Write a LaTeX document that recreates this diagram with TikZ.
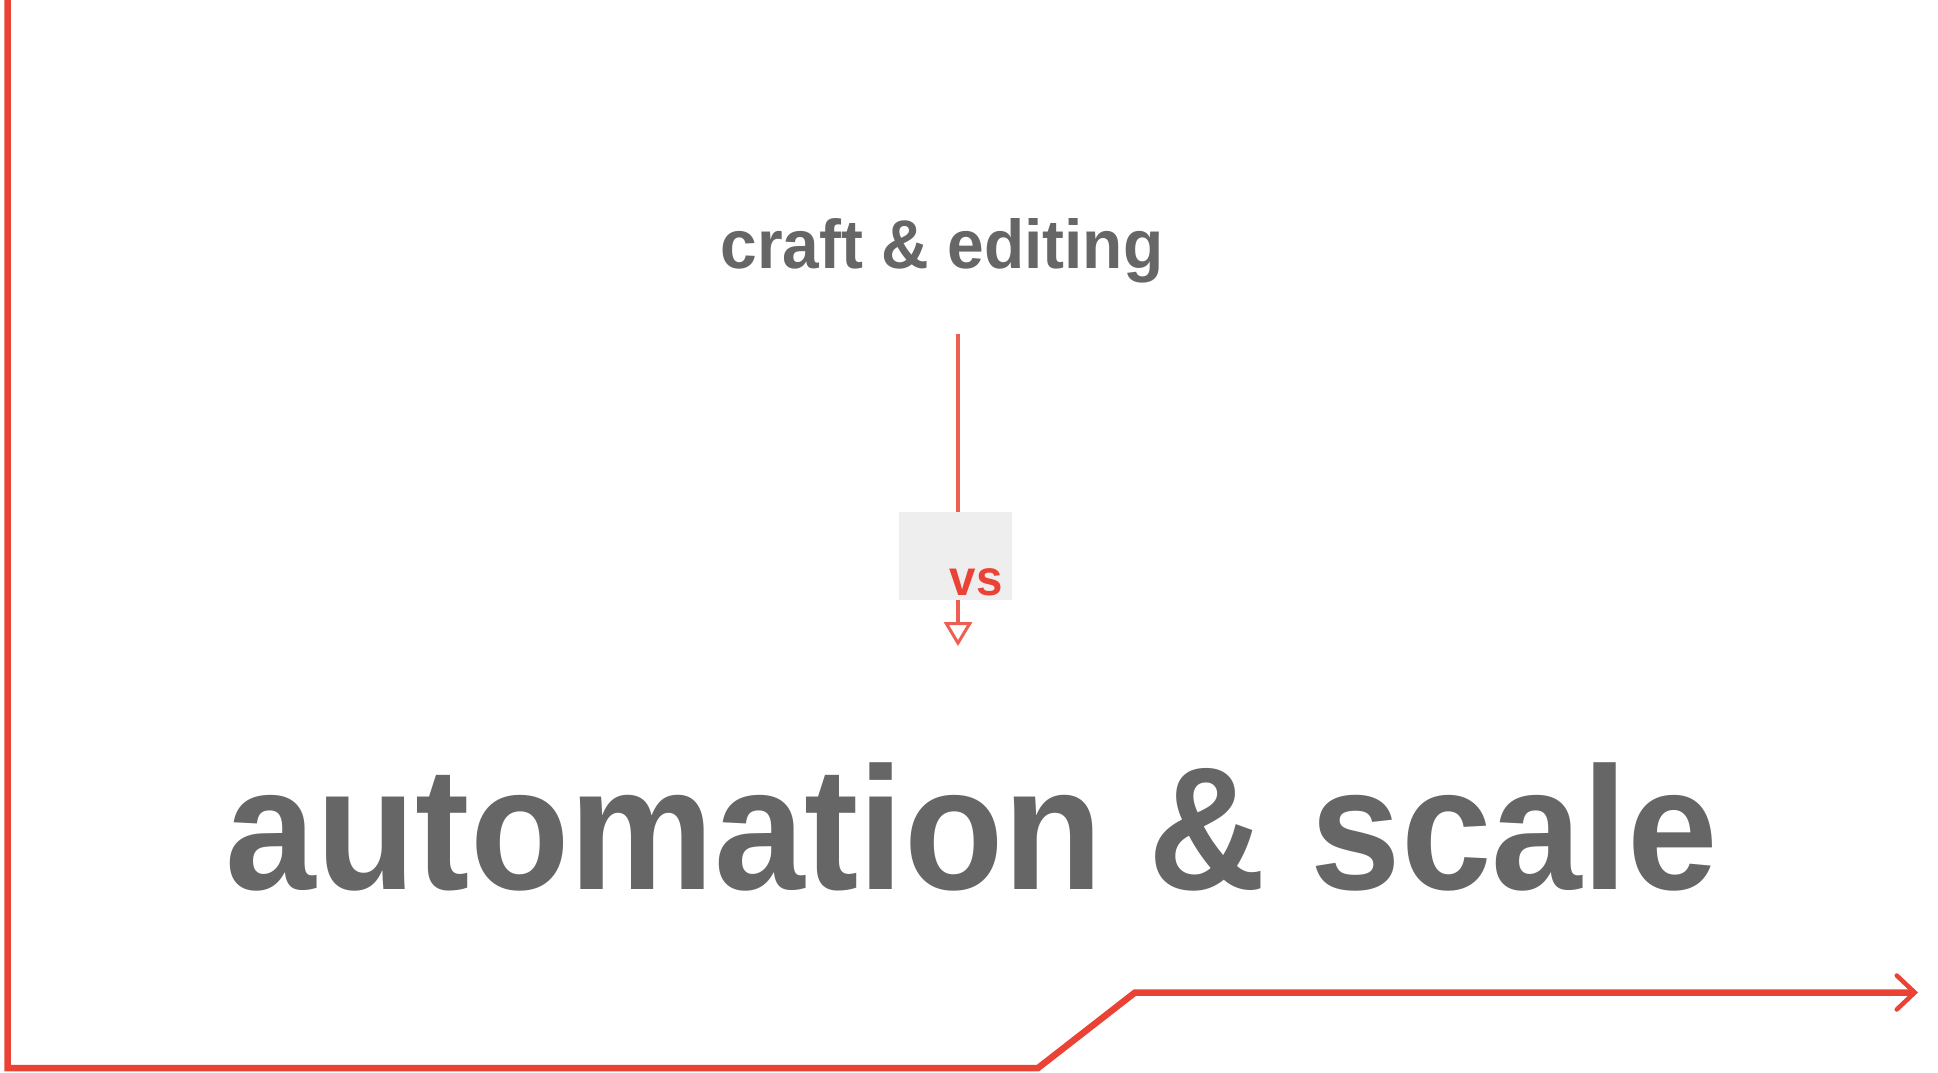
\documentclass[tikz,border=0pt]{standalone}
\usepackage{fontspec}
\setmainfont{Liberation Sans}
\usetikzlibrary{arrows.meta}
\definecolor{accent}{RGB}{234,67,53}
\definecolor{txtgray}{RGB}{102,102,102}
\definecolor{boxgray}{RGB}{238,238,238}
\tikzset{
  mainline/.style={draw=accent, line width=6.5pt, line join=miter},
  flowarrow/.style={draw=accent!85, line width=4pt, -{Triangle[open, length=24pt, width=28pt, line width=3pt]}},
  vsbox/.style={fill=boxgray, minimum width=113pt, minimum height=88pt, inner sep=0pt},
  heading/.style={text=txtgray, font=\bfseries, anchor=base, inner sep=0pt}
}
\begin{document}
\begin{tikzpicture}[x=1pt, y=-1pt]
\useasboundingbox[fill=white] (0,0) rectangle (1938,1073);
% left/bottom rising path
\coordinate (p0) at (7.5,0);
\coordinate (p1) at (7.5,1068);
\coordinate (p2) at (1038,1068);
\coordinate (p3) at (1135,992.5);
\coordinate (p4) at (1918,992.5);
\draw[mainline, -{Straight Barb[length=18pt, width=34pt, line width=4.5pt, line cap=round]}]
  (p0) -- (p1) -- (p2) -- (p3) -- (p4);
% titles
\node[heading, font=\bfseries\fontsize{69}{80}\selectfont] (craft) at (942,268) {\scalebox{0.955}[1]{craft \& editing}};
\node[heading, font=\bfseries\fontsize{175}{200}\selectfont] (auto) at (972,889) {\scalebox{0.93}[1]{automation \& scale}};
% vertical arrow
\coordinate (a0) at (958,334);
\coordinate (a1) at (958,646);
\draw[flowarrow] (a0) -- (a1);
% vs box
\node[vsbox] (box) at (955.5,556) {};
\node[heading, text=accent, font=\bfseries\fontsize{50}{60}\selectfont] (vs) at (976,595) {\scalebox{0.95}[1]{vs}};
\end{tikzpicture}
\end{document}
